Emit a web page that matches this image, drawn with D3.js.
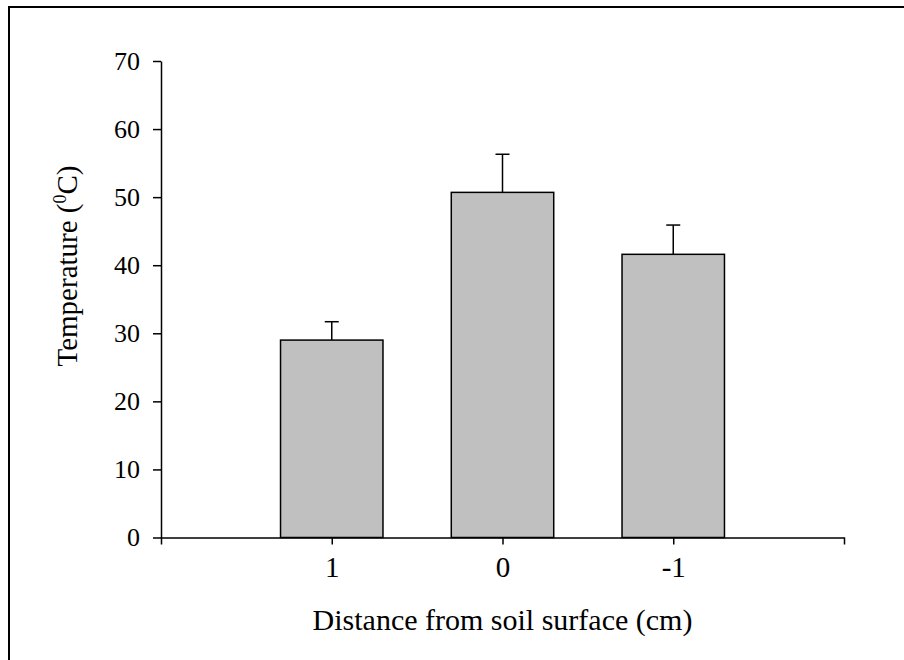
<!DOCTYPE html>
<html lang="en">
<head>
    <meta charset="UTF-8">
    <title>Temperature vs distance from soil surface</title>
    <script src="https://d3js.org/d3.v7.min.js"></script>
    <style>
        body { margin: 0; background: #fff; }
        svg { display: block; font-family: "Liberation Serif", "Times New Roman", serif; }
        .tick text { fill: #000; }
    </style>
</head>
<body>
    <div id="chart"></div>
    <script>
        // data
        const categories = ["1", "0", "-1"];
        const temps = [29.0, 50.7, 41.6];
        const errors = [2.7, 5.6, 4.3];
        const yTicks = [0, 10, 20, 30, 40, 50, 60, 70];

        const width = 904;
        const height = 660;
        const margin = { top: 61, right: 60, bottom: 122, left: 161 };

        const svg = d3.select("#chart").append("svg")
            .attr("width", width)
            .attr("height", height);

        // frame (only left and top edges fall inside the image)
        svg.append("rect")
            .attr("x", 9).attr("y", 7)
            .attr("width", width + 20).attr("height", height + 20)
            .attr("fill", "none")
            .attr("stroke", "#000")
            .attr("stroke-width", 2);

        const x = d3.scalePoint()
            .domain(categories)
            .range([margin.left, 844])
            .padding(1);

        const y = d3.scaleLinear()
            .domain([0, 70])
            .range([537.5, margin.top]);

        const barW = x.step() * 0.6;

        // bars
        svg.append("g")
            .selectAll("rect")
            .data(categories)
            .join("rect")
            .attr("x", (d) => x(d) - barW / 2)
            .attr("y", (d, i) => y(temps[i]))
            .attr("width", barW)
            .attr("height", (d, i) => y(0) - y(temps[i]))
            .attr("fill", "#c0c0c0")
            .attr("stroke", "#000")
            .attr("stroke-width", 1.5);

        // error bars (upper only)
        const err = svg.append("g")
            .attr("stroke", "#000")
            .attr("stroke-width", 1.5);
        err.selectAll("line.v")
            .data(categories)
            .join("line")
            .attr("class", "v")
            .attr("x1", (d) => x(d)).attr("x2", (d) => x(d))
            .attr("y1", (d, i) => y(temps[i]))
            .attr("y2", (d, i) => y(temps[i] + errors[i]));
        err.selectAll("line.cap")
            .data(categories)
            .join("line")
            .attr("class", "cap")
            .attr("x1", (d) => x(d) - 7).attr("x2", (d) => x(d) + 7)
            .attr("y1", (d, i) => y(temps[i] + errors[i]))
            .attr("y2", (d, i) => y(temps[i] + errors[i]));

        // axes
        const yAxis = svg.append("g")
            .attr("transform", `translate(${margin.left},0)`)
            .call(d3.axisLeft(y).tickValues(yTicks).tickSize(8).tickSizeOuter(0).tickPadding(13));
        yAxis.attr("font-family", "Liberation Serif").attr("font-size", 26);

        const xAxis = svg.append("g")
            .attr("transform", `translate(0,${y(0)})`)
            .call(d3.axisBottom(x).tickSize(7).tickSizeOuter(7).tickPadding(12));
        xAxis.attr("font-family", "Liberation Serif").attr("font-size", 29);

        svg.selectAll(".domain, .tick line")
            .attr("stroke", "#000")
            .attr("stroke-width", 1.5);

        // axis titles
        svg.append("text")
            .attr("x", (margin.left + 844) / 2)
            .attr("y", 630)
            .attr("text-anchor", "middle")
            .attr("font-size", 30)
            .text("Distance from soil surface (cm)");

        const yTitle = svg.append("text")
            .attr("transform", "translate(77,266) rotate(-90)")
            .attr("text-anchor", "middle")
            .attr("font-size", 29);
        yTitle.append("tspan").text("Temperature (");
        yTitle.append("tspan").attr("font-size", 18).attr("dy", -11).text("0");
        yTitle.append("tspan").attr("dy", 11).text("C)");
    </script>
</body>
</html>
